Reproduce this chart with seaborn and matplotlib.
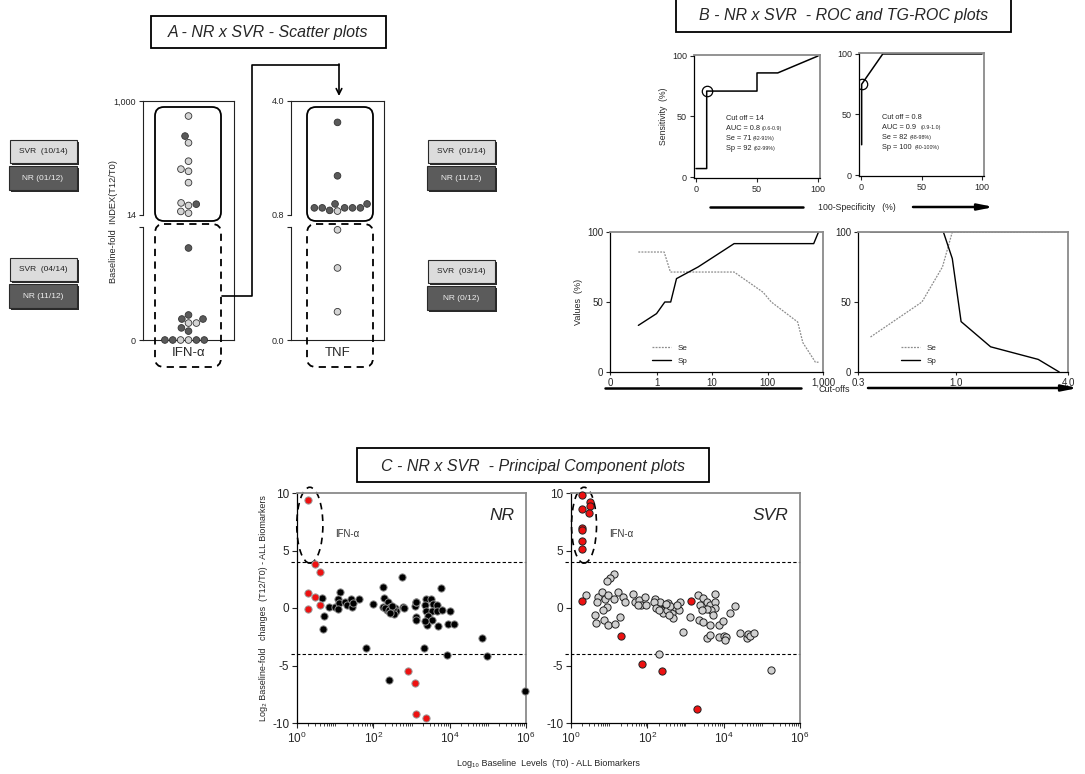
import numpy as np
import pandas as pd
import matplotlib
matplotlib.use("Agg")
import matplotlib.pyplot as plt
import seaborn as sns
from matplotlib.patches import Rectangle, FancyBboxPatch, Ellipse
from matplotlib.ticker import FixedLocator, NullFormatter, LogLocator, NullLocator

sns.set_style("ticks")
plt.rcParams["font.family"] = ["Liberation Sans", "DejaVu Sans"]
plt.rcParams["axes.unicode_minus"] = False
plt.rcParams["mathtext.fontset"] = "custom"
plt.rcParams["mathtext.rm"] = "Liberation Sans"
plt.rcParams["mathtext.default"] = "regular"

W, H = 1085, 774

# -------------------------------
# A - scatter plots, baseline-fold index (T12/T0)
# -------------------------------
ifn_hi_svr = [570, 209, 105, 78, 72, 47, 22, 20, 16, 15]
ifn_hi_nr = [269, 21]
ifn_lo_svr = [2.1, 2.1, 0, 0]
ifn_lo_nr = [11.4, 3.1, 2.6, 2.6, 1.5, 1.1, 0, 0, 0, 0]

tnf_hi_svr = [0.91]
tnf_hi_nr = [3.4, 1.9, 1.11, 1.11, 1.0, 1.0, 1.0, 1.0, 1.0, 0.93]
tnf_lo_svr = [0.78, 0.51, 0.2]
tnf_lo_nr = []

# -------------------------------
# B - ROC and TG-ROC curves
# -------------------------------
roc1_x = [0, 8.8, 8.8, 50, 50, 67, 100]
roc1_y = [7, 7, 71, 71, 86, 86, 100]
roc1_cut = (9, 71)
roc2_x = [0.6, 0.6, 18, 100]
roc2_y = [25, 75, 100, 100]
roc2_cut = (0.6, 75)

tg1_se_x = [0.47, 1.37, 1.78, 25, 83, 117, 350, 433, 730, 830]
tg1_se = [85.7, 85.7, 71.4, 71.4, 57, 50, 35.7, 21, 7, 7]
tg1_sp_x = [0.47, 1.0, 1.41, 1.8, 2.29, 5.6, 25, 680, 830]
tg1_sp = [33.3, 41.7, 50, 50, 66.7, 75, 91.7, 91.7, 100]

tg2_se_x = [0.35, 0.66, 0.85, 0.96, 3.6]
tg2_se = [25, 50, 75, 100, 100]
tg2_sp_x = [0.35, 0.86, 0.96, 1.07, 1.54, 2.77, 3.59]
tg2_sp = [100, 100, 81, 36, 18, 9, 0]

# -------------------------------
# C - principal component plots
# -------------------------------
nr_red_x = [2.0, 3.0, 3.9, 2.0, 3.0, 2.0, 3.9, 820, 1200, 1300, 2400]
nr_red_y = [9.4, 3.8, 3.1, 1.3, 1.0, -0.1, 0.3, -5.5, -6.5, -9.2, -9.6]
nr_blk_x = [4.4, 5.1, 4.8, 6.8, 9.8, 13, 12, 12.3, 12, 18, 20, 26, 27, 30, 42, 63,
            98, 182, 186, 182, 245, 270, 224, 302, 363, 398, 580, 600, 650, 1230,
            1290, 1290, 1320, 5900, 1350, 2450, 3240, 2240, 3700, 4570, 2450, 3400,
            4680, 6300, 10000, 2750, 3470, 5000, 2570, 2240, 8900, 13200, 69000,
            2100, 8700, 98000, 955000, 257, 200, 250, 330, 300, 350, 280]
nr_blk_y = [0.9, -0.7, -1.8, 0.1, 0.1, 1.4, 0.8, 0.4, -0.1, 0.55, 0.25, 0.75, 0.1,
            0.45, 0.75, -3.45, 0.35, 1.8, 0.85, 0.1, 0.55, 0.1, -0.15, -0.3, 0.0,
            -0.3, 2.7, 0.1, 0.0, 0.2, -0.75, -1.05, 0.55, 1.7, 0.55, 0.75, 0.75,
            0.25, 0.35, 0.25, -0.25, -0.25, -0.25, -0.15, -0.25, -0.7, -1.05, -1.6,
            -1.5, -1.15, -1.35, -1.35, -2.65, -3.5, -4.05, -4.2, -7.2, -6.3, 0.0,
            -0.2, -0.1, 0.2, -0.5, -0.4]

svr_red_x = [2.0, 2.0, 3.1, 3.1, 3.0, 2.0, 2.0, 2.0, 2.0, 2.0, 20, 74, 245, 1380, 1950]
svr_red_y = [9.8, 8.6, 9.25, 8.9, 8.3, 7.0, 6.75, 5.8, 5.1, 0.65, -2.4, -4.9, -5.5, 0.6, -8.8]
svr_gry_x = [13.6, 10.7, 8.6, 2.5, 5.2, 6.6, 7.8, 4.7, 9.5, 8.6, 6.8, 4.3, 7.4, 4.4,
             9.5, 14, 19, 16.6, 13.6, 23, 26, 43, 48, 60, 68, 87, 95, 56, 158, 195,
             219, 288, 234, 355, 437, 525, 724, 676, 871, 479, 2190, 2820, 5890,
             3630, 2450, 4370, 5890, 5890, 4790, 3630, 2630, 5130, 1320, 2290, 2820,
             4370, 7590, 9770, 14450, 19950, 3630, 4370, 7590, 10470, 27540, 39810,
             44670, 50120, 63100, 11480, 11000, 169800, 204, 150, 170, 250, 320,
             400, 600, 300, 380, 200]
svr_gry_y = [2.95, 2.65, 2.35, 1.1, 1.0, 1.35, 0.75, 0.55, 1.1, 0.05, -0.15, -0.6,
             -1.05, -1.3, -1.5, -1.35, -0.8, 1.35, 0.75, 0.95, 0.55, 1.2, 0.55, 0.7,
             0.3, 0.95, 0.25, 0.25, 0.75, 0.25, 0.55, 0.0, -0.15, 0.4, -0.45, 0.1,
             0.55, -0.15, -2.1, -0.9, 1.15, 0.85, 1.2, 0.55, 0.25, 0.25, 0.55, 0.0,
             -0.15, -0.1, -0.15, -0.6, -0.75, -1.0, -1.2, -1.5, -1.5, -1.15, -0.45,
             0.15, -2.65, -2.35, -2.55, -2.45, -2.2, -2.65, -2.3, -2.45, -2.2, -2.5,
             -2.8, -5.4, -4.0, 0.5, 0.0, -0.4, -0.2, 0.2, 0.3, 0.35, -0.6, -0.2]


fig = plt.figure(figsize=(W / 100, H / 100), dpi=100)


def px(x0, y0, x1, y1):
    # pixel box (top-left origin) -> figure fraction rect
    return [x0 / W, 1 - y1 / H, (x1 - x0) / W, (y1 - y0) / H]


# ===== Panel A =====
pal = {"NR": "#5a5a5a", "SVR": "#d4d4d4"}


def frame(rect):
    f = fig.add_axes(px(*rect))
    f.set_xticks([])
    f.set_yticks([])
    f.spines["left"].set_visible(False)
    for s in ["top", "right", "bottom"]:
        f.spines[s].set_linewidth(0.8)
        f.spines[s].set_color("#222222")
    f.patch.set_alpha(0)
    return f


def swarm(rect, svr, nr, name, log=False):
    a = fig.add_axes(px(*rect))
    a.patch.set_alpha(0)
    df = pd.DataFrame({"marker": name, "value": list(svr) + list(nr),
                       "group": ["SVR"] * len(svr) + ["NR"] * len(nr)})
    sns.swarmplot(data=df, x="marker", y="value", hue="group", palette=pal,
                  hue_order=["NR", "SVR"], size=4.8, edgecolor="#333333",
                  linewidth=0.6, legend=False, log_scale=log, ax=a)
    for c in a.collections:
        c.set_clip_on(False)
    for s in ["top", "right", "bottom"]:
        a.spines[s].set_visible(False)
    a.spines["left"].set_linewidth(0.8)
    a.spines["left"].set_color("#222222")
    a.set_xlim(-0.5, 0.5)
    a.set_xlabel("")
    a.set_ylabel("")
    a.yaxis.set_minor_locator(NullLocator())
    a.tick_params(axis="y", labelsize=6.5, length=3, width=0.8, pad=2, direction="out")
    a.tick_params(axis="x", length=0, labelsize=9.5, pad=5)
    return a


frame((143, 101, 234, 340))
ax = swarm((143, 101, 234, 215), ifn_hi_svr, ifn_hi_nr, "IFN-α", log=True)
ax.set_ylim(14, 1000)
ax.set_yticks([14, 1000], ["14", "1,000"])
ax.set_xticks([])
ax = swarm((143, 227, 234, 340), ifn_lo_svr, ifn_lo_nr, "IFN-α")
ax.set_ylim(0, 14)
ax.set_yticks([0, 14], ["0", ""])

frame((291, 101, 384, 340))
ax = swarm((291, 101, 384, 215), tnf_hi_svr, tnf_hi_nr, "TNF")
ax.set_ylim(0.8, 4.0)
ax.set_yticks([0.8, 4.0], ["0.8", "4.0"])
ax.set_xticks([])
ax = swarm((291, 227, 384, 340), tnf_lo_svr, tnf_lo_nr, "TNF")
ax.set_ylim(0, 0.8)
ax.set_yticks([0, 0.8], ["0.0", ""])


# ===== Panel B =====
def box_spines(a, fs=6.5):
    for s in ["left", "bottom"]:
        a.spines[s].set_color("black")
        a.spines[s].set_linewidth(0.9)
    for s in ["top", "right"]:
        a.spines[s].set_color("#8a8a8a")
        a.spines[s].set_linewidth(1.3)
    a.tick_params(labelsize=fs, length=3, width=0.8, pad=2)


def roc_text(a, x, y0, lines):
    for i, (main, ci) in enumerate(lines):
        t = a.text(x, y0 - i * 8.3, main, fontsize=5.3, va="center")
        a.annotate(ci, xy=(1, 0.5), xycoords=t, xytext=(1.5, 0),
                   textcoords="offset points", fontsize=3.8, va="center")


roc1 = fig.add_axes(px(694, 55, 820, 178))
sns.lineplot(x=roc1_x, y=roc1_y, sort=False, estimator=None, color="black", lw=1.1, ax=roc1)
roc1.plot(*roc1_cut, "o", mfc="none", mec="black", ms=7.5, mew=0.9)
roc1.set_xlim(-1.6, 101.6)
roc1.set_ylim(-0.8, 100.8)
roc1.set_xticks([0, 50, 100])
roc1.set_yticks([0, 50, 100])
roc1.set_ylabel("Sensitivity  (%)", fontsize=6.2, labelpad=3)
box_spines(roc1)
roc_text(roc1, 24.3, 48.5, [("Cut off = 14", ""), ("AUC = 0.8", "(0.6-0.9)"),
                            ("Se = 71", "(42-91%)"), ("Sp = 92", "(62-99%)")])

roc2 = fig.add_axes(px(859, 53, 984, 176))
sns.lineplot(x=roc2_x, y=roc2_y, sort=False, estimator=None, color="black", lw=1.1, ax=roc2)
roc2.plot(*roc2_cut, "o", mfc="none", mec="black", ms=7.5, mew=0.9)
roc2.set_xlim(-1.6, 101.6)
roc2.set_ylim(-0.8, 100.8)
roc2.set_xticks([0, 50, 100])
roc2.set_yticks([0, 50, 100])
box_spines(roc2)
roc_text(roc2, 17.8, 47.3, [("Cut off = 0.8", ""), ("AUC = 0.9 ", "(0.9-1.0)"),
                            ("Se = 82", "(48-98%)"), ("Sp = 100", "(40-100%)")])


def tg_panel(rect, se_x, se, sp_x, sp, xlim, ticks, labels, leg_x):
    a = fig.add_axes(px(*rect))
    a.set_xscale("log")
    sns.lineplot(x=se_x, y=se, sort=False, estimator=None, color="#8c8c8c", lw=0.9,
                 linestyle=(0, (1.5, 1)), label="Se", ax=a)
    sns.lineplot(x=sp_x, y=sp, sort=False, estimator=None, color="black", lw=1.0,
                 label="Sp", ax=a)
    a.set_xlim(*xlim)
    a.set_ylim(0, 100)
    a.xaxis.set_major_locator(FixedLocator(ticks))
    a.set_xticklabels(labels)
    a.xaxis.set_minor_locator(NullLocator())
    a.set_yticks([0, 50, 100])
    a.legend(loc="lower left", bbox_to_anchor=(leg_x, 0.03), frameon=False,
             fontsize=5.8, handlelength=2.4, labelspacing=0.6, borderaxespad=0)
    box_spines(a, fs=7)
    a.tick_params(axis="x", length=2.5, pad=1.5)
    return a


tg1 = tg_panel((610, 232, 823, 372), tg1_se_x, tg1_se, tg1_sp_x, tg1_sp,
               (0.145, 1000), [0.145, 1, 10, 100, 1000], ["0", "1", "10", "100", "1,000"], 0.18)
tg1.set_ylabel("Values  (%)", fontsize=6.5, labelpad=3)
tg2 = tg_panel((858, 232, 1068, 372), tg2_se_x, tg2_se, tg2_sp_x, tg2_sp,
               (0.3, 4.0), [0.3, 1.0, 4.0], ["0.3", "1.0", "4.0"], 0.19)


# ===== Panel C =====
def pca_panel(rect, oth_x, oth_y, oth_fc, oth_ec, red_x, red_y, red_ec, name, ell_x, ell_w):
    a = fig.add_axes(px(*rect))
    a.set_xscale("log")
    sns.scatterplot(x=oth_x, y=oth_y, color=oth_fc, edgecolor=oth_ec, s=27,
                    linewidth=0.7, ax=a, zorder=3)
    sns.scatterplot(x=red_x, y=red_y, color="#ee1111", edgecolor=red_ec, s=27,
                    linewidth=0.7, ax=a, zorder=4)
    for c in a.collections:
        c.set_clip_on(False)
    a.set_xlim(1, 1e6)
    a.set_ylim(-10, 10)
    a.xaxis.set_major_locator(FixedLocator([1, 1e2, 1e4, 1e6]))
    a.xaxis.set_minor_locator(LogLocator(base=10, subs=np.arange(1, 10), numticks=100))
    a.xaxis.set_minor_formatter(NullFormatter())
    a.set_yticks([-10, -5, 0, 5, 10])
    for yl in (4, -4):
        a.axhline(yl, xmin=-0.025, xmax=1, color="black", lw=0.8, ls=(0, (3, 2)), clip_on=False)
    a.add_patch(Ellipse((ell_x, 0.86), ell_w, 0.33, transform=a.transAxes, fill=False,
                        ec="black", lw=1.2, ls=(0, (4, 3)), clip_on=False))
    a.text(ell_x + 0.11, 0.81, "IFN-α", transform=a.transAxes, fontsize=7, color="#333333")
    a.text(0.95, 0.9, name, transform=a.transAxes, ha="right", va="center",
           fontsize=12.5, style="italic")
    box_spines(a)
    a.tick_params(labelsize=8.5, length=3.5, pad=2)
    a.tick_params(which="minor", length=2, width=0.6)
    return a


c1 = pca_panel((297, 493, 526, 723), nr_blk_x, nr_blk_y, "black", "#8a8a8a",
               nr_red_x, nr_red_y, "#9a9a9a", "NR", 0.056, 0.114)
c1.set_ylabel("Log₂ Baseline-fold   changes  (T12/T0) - ALL Biomarkers", fontsize=6.5, labelpad=3)
c2 = pca_panel((571, 493, 800, 723), svr_gry_x, svr_gry_y, "#d0d0d0", "#222222",
               svr_red_x, svr_red_y, "#222222", "SVR", 0.057, 0.109)


# ===== overlay: boxes, arrows, labels =====
ov = fig.add_axes([0, 0, 1, 1], zorder=10)
ov.set_xlim(0, W)
ov.set_ylim(H, 0)
ov.axis("off")


def title_box(x0, y0, x1, y1, text):
    ov.add_patch(Rectangle((x0, y0), x1 - x0, y1 - y0, fill=False, ec="black", lw=1.3))
    ov.text((x0 + x1) / 2, (y0 + y1) / 2 + 1, text, ha="center", va="center",
            fontsize=11.5, style="italic")


title_box(151, 16, 386, 48, "A - NR x SVR - Scatter plots")
title_box(676, -3, 1011, 32, "B - NR x SVR  - ROC and TG-ROC plots")
title_box(357, 448, 709, 482, "C - NR x SVR  - Principal Component plots")


def side_box(x0, y0, x1, y1, text, fc, tc):
    ov.add_patch(Rectangle((x0 + 2, y0 + 2), x1 - x0, y1 - y0, fc="#2a2a2a", ec="none"))
    ov.add_patch(Rectangle((x0, y0), x1 - x0, y1 - y0, fc=fc, ec="#2a2a2a", lw=0.8))
    ov.text((x0 + x1) / 2, (y0 + y1) / 2, text, ha="center", va="center",
            fontsize=6, color=tc)


for (x0, x1), y0, svr_txt, nr_txt in [((9, 77), 140, "SVR  (10/14)", "NR (01/12)"),
                                      ((9, 77), 258, "SVR  (04/14)", "NR (11/12)"),
                                      ((427, 495), 140, "SVR  (01/14)", "NR (11/12)"),
                                      ((427, 495), 260, "SVR  (03/14)", "NR (0/12)")]:
    side_box(x0 + 1, y0, x1, y0 + 23, svr_txt, "#dcdcdc", "#222222")
    side_box(x0, y0 + 26, x1, y0 + 50, nr_txt, "#5b5b5b", "#f0f0f0")

# rounded groups around the scatter columns
for x0 in (155, 307):
    ov.add_patch(FancyBboxPatch((x0, 107), 66, 114, boxstyle="round,pad=0,rounding_size=9",
                                fill=False, ec="black", lw=1.3))
    ov.add_patch(FancyBboxPatch((x0, 224), 66, 143, boxstyle="round,pad=0,rounding_size=9",
                                fill=False, ec="black", lw=1.3, ls=(0, (4, 3))))

ov.plot([222, 252, 252, 339], [296, 296, 65, 65], color="black", lw=1.2)
ov.annotate("", xy=(339, 96), xytext=(339, 64),
            arrowprops=dict(arrowstyle="->", lw=1.2, color="black", shrinkA=0, shrinkB=0))
ov.text(113, 222, "Baseline-fold  INDEX(T12/T0)", rotation=90, ha="center",
        va="center", fontsize=6.7)

# axis arrows for panel B
ov.plot([710, 803], [207, 207], color="black", lw=1.8)
ov.annotate("", xy=(994, 207), xytext=(913, 207),
            arrowprops=dict(arrowstyle="-|>,head_length=0.9,head_width=0.18", lw=1.8,
                            color="black", shrinkA=0, shrinkB=0))
ov.text(857, 207, "100-Specificity   (%)", ha="center", va="center", fontsize=6.3)

ov.plot([605, 801], [388, 388], color="black", lw=1.8)
ov.annotate("", xy=(1078, 388), xytext=(868, 388),
            arrowprops=dict(arrowstyle="-|>,head_length=0.9,head_width=0.18", lw=1.8,
                            color="black", shrinkA=0, shrinkB=0))
ov.text(834, 390, "Cut-offs", ha="center", va="center", fontsize=6.5)

ov.text(548, 763, "Log₁₀ Baseline  Levels  (T0) - ALL Biomarkers", ha="center",
        va="center", fontsize=6.5)

fig.savefig("out.png", dpi=100)
